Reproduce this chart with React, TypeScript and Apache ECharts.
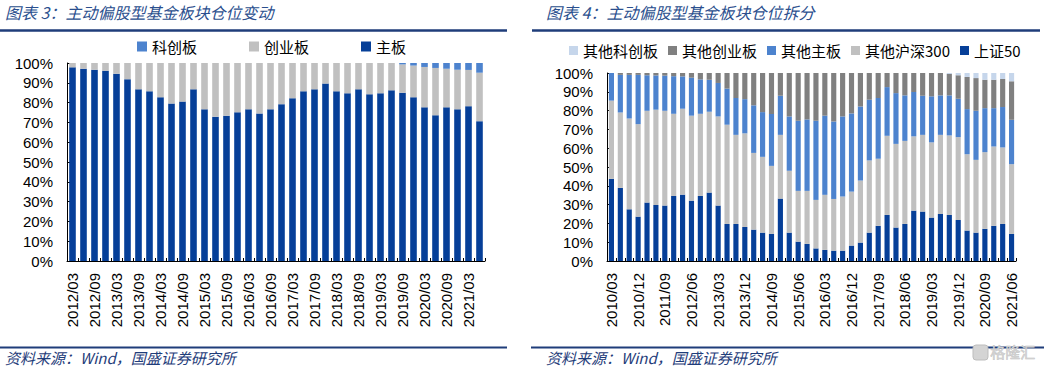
import React, { useEffect, useRef } from "react";
import * as echarts from "echarts";

// ---------- Left chart (图表3) ----------
const leftCategories = [
  "2012/03","2012/06","2012/09","2012/12","2013/03","2013/06","2013/09","2013/12",
  "2014/03","2014/06","2014/09","2014/12","2015/03","2015/06","2015/09","2015/12",
  "2016/03","2016/06","2016/09","2016/12","2017/03","2017/06","2017/09","2017/12",
  "2018/03","2018/06","2018/09","2018/12","2019/03","2019/06","2019/09","2019/12",
  "2020/03","2020/06","2020/09","2020/12","2021/03","2021/06",
];
const mainBoard = [
  97.8, 97.1, 96.6, 96.1, 94.6, 91.8, 86.7, 85.7,
  82.7, 79.5, 80.5, 86.7, 76.6, 72.9, 73.4, 75.1,
  76.6, 74.5, 76.6, 79.2, 82.2, 85.7, 86.7, 89.6,
  85.7, 84.7, 86.7, 84.2, 84.7, 86.2, 85.0, 82.7,
  77.6, 73.6, 77.6, 76.6, 78.2, 70.6,
];
const starBoard = [
  0, 0, 0, 0, 0, 0, 0, 0,
  0, 0, 0, 0, 0, 0, 0, 0,
  0, 0, 0, 0, 0, 0, 0, 0,
  0, 0, 0, 0, 0, 0, 0.7, 1.3,
  2.0, 2.5, 2.9, 3.4, 3.5, 4.9,
];
const chinext = mainBoard.map((m, i) => +(100 - m - starBoard[i]).toFixed(1));

// ---------- Right chart (图表4) ----------
const rightCategories = [
  "2010/03","2010/06","2010/09","2010/12","2011/03","2011/06","2011/09","2011/12",
  "2012/03","2012/06","2012/09","2012/12","2013/03","2013/06","2013/09","2013/12",
  "2014/03","2014/06","2014/09","2014/12","2015/03","2015/06","2015/09","2015/12",
  "2016/03","2016/06","2016/09","2016/12","2017/03","2017/06","2017/09","2017/12",
  "2018/03","2018/06","2018/09","2018/12","2019/03","2019/06","2019/09","2019/12",
  "2020/03","2020/06","2020/09","2020/12","2021/03","2021/06",
];
const sz50 = [
  43.7, 38.9, 27.5, 23.6, 31.1, 29.8, 29.5, 34.6, 35.3, 32.1,
  34.6, 36.4, 29.5, 19.7, 19.7, 18.1, 16.7, 15.1, 14.4, 33.2,
  15.1, 10.3, 9.1, 6.7, 5.9, 5.5, 5.5, 8.2, 9.8, 15.1,
  18.7, 24.5, 17.8, 19.7, 26.8, 26.3, 23.1, 25.0, 24.5, 21.8,
  16.2, 15.1, 17.1, 18.7, 19.7, 14.4,
];
const otherHs300 = [
  41.6, 40.1, 48.3, 49.2, 48.8, 50.7, 50.4, 43.7, 45.7, 45.2,
  43.7, 43.0, 47.4, 52.8, 47.4, 49.8, 40.8, 40.3, 36.2, 33.9,
  32.9, 27.0, 28.2, 25.8, 29.3, 27.5, 28.8, 28.7, 33.0, 38.4,
  35.7, 42.1, 44.5, 44.2, 39.5, 40.8, 40.0, 42.1, 42.3, 44.1,
  40.6, 38.7, 40.8, 42.2, 40.7, 37.1,
];
const otherMain = [
  14.7, 20.0, 23.2, 26.2, 18.9, 18.2, 18.7, 20.0, 17.2, 20.2,
  18.3, 17.0, 17.8, 19.2, 19.6, 18.2, 25.3, 23.8, 27.6, 20.8,
  28.9, 37.3, 38.0, 42.1, 42.1, 41.2, 42.6, 41.6, 39.4, 32.3,
  32.3, 25.9, 27.0, 24.2, 23.6, 20.8, 24.5, 21.0, 21.3, 20.4,
  24.0, 26.1, 23.4, 20.4, 21.5, 23.6,
];
const otherChinext = [
  0, 1.0, 1.0, 1.0, 1.2, 1.3, 1.4, 1.7, 1.8, 2.5,
  3.4, 3.6, 5.3, 8.3, 13.3, 13.9, 17.2, 20.8, 21.8, 12.1,
  23.1, 25.4, 24.7, 25.4, 22.7, 25.8, 23.1, 21.5, 17.8, 14.2,
  13.3, 7.5, 10.7, 11.9, 10.1, 12.1, 12.4, 11.9, 11.4, 12.5,
  17.1, 17.4, 15.1, 15.1, 14.9, 20.5,
];
const otherStar = [
  0, 0, 0, 0, 0, 0, 0, 0, 0, 0,
  0, 0, 0, 0, 0, 0, 0, 0, 0, 0,
  0, 0, 0, 0, 0, 0, 0, 0, 0, 0,
  0, 0, 0, 0, 0, 0, 0, 0, 0.5, 1.2,
  2.1, 2.7, 3.6, 3.6, 3.6, 4.4,
];

const DARK_BLUE = "#063F98";
const MID_BLUE = "#4D83CE";
const LIGHT_GRAY = "#C0C0C0";
const DARK_GRAY = "#808080";
const PALE_BLUE = "#C6D6EB";
const NAVY = "#1F3D7A";
const TITLE_BLUE = "#2B4F8E";

const CJK = "'Noto Sans CJK SC', sans-serif";
const LAT = "'Liberation Sans', Arial, sans-serif";

export default function App() {
  const ref = useRef<HTMLDivElement>(null);

  useEffect(() => {
    document.body.style.margin = "0";
    if (!ref.current) return;
    const chart = echarts.init(ref.current, undefined, { renderer: "svg" });

    const xAxisCommon = (data: string[], interval: number, gridIndex: number) => ({
      type: "category",
      gridIndex,
      data,
      boundaryGap: true,
      axisLine: { show: true, lineStyle: { color: "#000", width: 1 } },
      axisTick: { show: true, inside: true, length: 3, interval: 0, lineStyle: { color: "#000" } },
      axisLabel: {
        interval,
        rotate: 90,
        margin: 12,
        fontSize: 15,
        fontFamily: LAT,
        color: "#000",
      },
    });
    const yAxisCommon = (gridIndex: number) => ({
      type: "value",
      gridIndex,
      min: 0,
      max: 100,
      interval: 10,
      axisLine: { show: true, lineStyle: { color: "#000", width: 1 } },
      axisTick: { show: true, inside: true, length: 3, lineStyle: { color: "#000" } },
      splitLine: { show: false },
      axisLabel: {
        formatter: "{value}%",
        margin: 14,
        fontSize: 15,
        fontFamily: LAT,
        color: "#000",
      },
    });

    const leftBar = (name: string, data: number[], color: string) => ({
      name,
      type: "bar",
      stack: "left",
      xAxisIndex: 0,
      yAxisIndex: 0,
      data,
      barCategoryGap: "40%",
      itemStyle: { color },
    });
    const rightBar = (name: string, data: number[], color: string) => ({
      name,
      type: "bar",
      stack: "right",
      xAxisIndex: 1,
      yAxisIndex: 1,
      data,
      barCategoryGap: "42%",
      itemStyle: { color },
    });

    const titleStyle = {
      fontSize: 16,
      fontFamily: CJK,
      fontStyle: "italic",
      fill: TITLE_BLUE,
    };
    const sourceStyle = {
      fontSize: 15,
      fontFamily: CJK,
      fontStyle: "italic",
      fill: NAVY,
    };

    chart.setOption({
      animation: false,
      backgroundColor: "#fff",
      grid: [
        { left: 67, top: 63, width: 418, height: 198 },
        { left: 607, top: 73, width: 409, height: 188 },
      ],
      xAxis: [xAxisCommon(leftCategories, 1, 0), xAxisCommon(rightCategories, 2, 1)],
      yAxis: [yAxisCommon(0), yAxisCommon(1)],
      legend: [
        {
          data: ["科创板", "创业板", "主板"],
          left: 137,
          top: 39,
          padding: 0,
          itemWidth: 10,
          itemHeight: 10,
          itemGap: 52,
          icon: "rect",
          textStyle: { fontSize: 15, fontFamily: CJK, color: "#000" },
        },
        {
          data: ["其他科创板", "其他创业板", "其他主板", "其他沪深300", "上证50"],
          left: 569,
          top: 43,
          padding: 0,
          itemWidth: 9,
          itemHeight: 9,
          itemGap: 10,
          icon: "rect",
          textStyle: { fontSize: 15, fontFamily: CJK, color: "#000" },
        },
      ],
      series: [
        leftBar("主板", mainBoard, DARK_BLUE),
        leftBar("创业板", chinext, LIGHT_GRAY),
        leftBar("科创板", starBoard, MID_BLUE),
        rightBar("上证50", sz50, DARK_BLUE),
        rightBar("其他沪深300", otherHs300, LIGHT_GRAY),
        rightBar("其他主板", otherMain, MID_BLUE),
        rightBar("其他创业板", otherChinext, DARK_GRAY),
        rightBar("其他科创板", otherStar, PALE_BLUE),
      ],
      graphic: [
        { type: "text", left: 5, top: 4, style: { ...titleStyle, text: "图表 3：主动偏股型基金板块仓位变动" } },
        { type: "text", left: 546, top: 4, style: { ...titleStyle, text: "图表 4：主动偏股型基金板块仓位拆分" } },
        { type: "line", shape: { x1: 0, y1: 30.5, x2: 507, y2: 30.5 }, style: { stroke: NAVY, lineWidth: 2.5 } },
        { type: "line", shape: { x1: 532, y1: 30.5, x2: 1040, y2: 30.5 }, style: { stroke: NAVY, lineWidth: 2.5 } },
        { type: "line", shape: { x1: 0, y1: 347.5, x2: 507, y2: 347.5 }, style: { stroke: NAVY, lineWidth: 2 } },
        { type: "line", shape: { x1: 531, y1: 347.5, x2: 1044, y2: 347.5 }, style: { stroke: NAVY, lineWidth: 2 } },
        { type: "text", left: 5, top: 350, style: { ...sourceStyle, text: "资料来源：Wind，国盛证券研究所" } },
        { type: "text", left: 546, top: 350, style: { ...sourceStyle, text: "资料来源：Wind，国盛证券研究所" } },
        {
          type: "rect",
          shape: { x: 973, y: 345, width: 15, height: 15, r: 3 },
          style: { fill: "#d4d4d4", stroke: "#bdbdbd", lineWidth: 1 },
        },
        {
          type: "text",
          left: 990,
          top: 344,
          style: { text: "格隆汇", fontSize: 15, fontFamily: CJK, fill: "#d0d0d0", stroke: "#bbbbbb", lineWidth: 0.5 },
        },
      ],
    });

    return () => chart.dispose();
  }, []);

  return <div ref={ref} style={{ width: 1046, height: 370 }} />;
}
